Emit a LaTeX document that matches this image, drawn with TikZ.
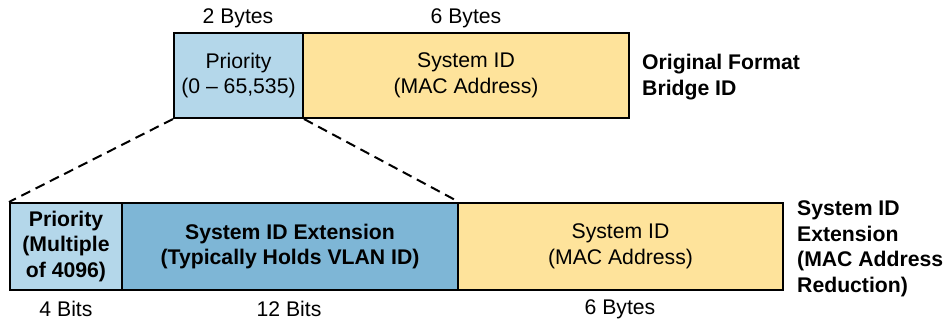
\documentclass[tikz,border=0pt]{standalone}
\usepackage{fontspec}
\setmainfont{Liberation Sans}
\usetikzlibrary{positioning}
\definecolor{priolight}{RGB}{180,215,234}
\definecolor{extblue}{RGB}{126,182,214}
\definecolor{macyellow}{RGB}{254,227,155}
\newcommand\bidfont{\fontsize{21.2}{25.5}\selectfont}
\tikzset{field/.style={draw,line width=2pt,inner sep=0pt,align=center,font=\bidfont},
  sizelabel/.style={font=\bidfont,inner sep=0pt},
  titlelabel/.style={font=\bidfont\bfseries,align=left,inner sep=0pt,anchor=west},
  zoomline/.style={line width=2pt,dash pattern=on 10pt off 6pt}}

\begin{document}
\begin{tikzpicture}[x=1pt,y=-1pt]
  \path[use as bounding box] (0,0) rectangle (945,322);
  % original bridge id
  \node[field,fill=priolight,minimum width=129pt,minimum height=85pt] (prio) at (238.5,75.5) {Priority\\(0 -- 65,535)};
  \node[field,fill=macyellow,minimum width=326pt,minimum height=85pt] (sysid) at (466,75.5) {System ID\\(MAC Address)};
  \node[sizelabel] (prioBytes) at (238,18) {2 Bytes};
  \node[sizelabel] (sysidBytes) at (466,18) {6 Bytes};
  \node[titlelabel] (origTitle) at (642,77) {Original Format\\Bridge ID};
  % extended bridge id
  \node[field,fill=priolight,font=\bidfont\bfseries,minimum width=112pt,minimum height=87pt] (xprio) at (66,246.5) {Priority\\(Multiple\\of 4096)};
  \node[field,fill=extblue,font=\bidfont\bfseries,minimum width=336pt,minimum height=87pt] (xext) at (290,246.5) {System ID Extension\\(Typically Holds VLAN ID)};
  \node[field,fill=macyellow,minimum width=325pt,minimum height=87pt] (xsysid) at (620.5,246.5) {System ID\\(MAC Address)};
  \node[sizelabel] (xprioBits) at (66,309) {4 Bits};
  \node[sizelabel] (xextBits) at (289,309) {12 Bits};
  \node[sizelabel] (xsysidBytes) at (620,309) {6 Bytes};
  \node[titlelabel] (extTitle) at (797,249) {System ID\\Extension\\(MAC Address\\Reduction)};
  % zoom lines
  \draw[zoomline] (prio.south west) -- (xprio.north west);
  \draw[zoomline] (prio.south east) -- (xext.north east);
\end{tikzpicture}
\end{document}
